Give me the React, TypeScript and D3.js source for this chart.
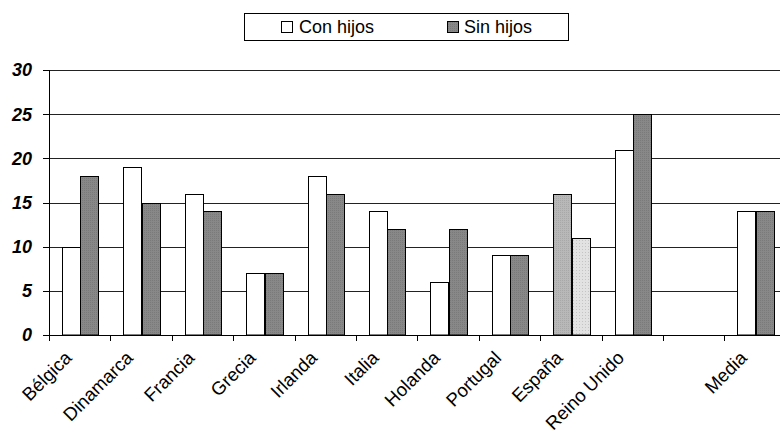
import React from "react";
import * as d3 from "d3";

const categories = ["Bélgica", "Dinamarca", "Francia", "Grecia", "Irlanda", "Italia", "Holanda", "Portugal", "España", "Reino Unido", "", "Media"];
const conHijos: (number | null)[] = [10, 19, 16, 7, 18, 14, 6, 9, 16, 21, null, 14];
const sinHijos: (number | null)[] = [18, 15, 14, 7, 16, 12, 12, 9, 11, 25, null, 14];
const yTicks = [0, 5, 10, 15, 20, 25, 30];
const seriesNames = ["Con hijos", "Sin hijos"];

const W = 780, H = 435;
const left = 49, top = 70, bottom = 335;
const bandW = 61.4;
const FONT = "Arial, 'Liberation Sans', sans-serif";

export default function App() {
  const keys = categories.map((c, i) => `${i}`);
  const x = d3.scaleBand<string>().domain(keys).range([left, left + bandW * categories.length]).padding(0);
  const y = d3.scaleLinear().domain([0, 30]).range([bottom, top]);
  const sub = d3.scaleBand<string>().domain(["0", "1"]).range([13, 13 + 36.6]).padding(0);

  const fillFor = (s: number, i: number) => {
    if (categories[i] === "España") return s === 0 ? "url(#patA)" : "url(#patB)";
    return s === 0 ? "#ffffff" : "url(#patDark)";
  };

  const bars: React.ReactNode[] = [];
  categories.forEach((c, i) => {
    [conHijos, sinHijos].forEach((arr, s) => {
      const v = arr[i];
      if (v == null) return;
      const bx = Math.round((x(`${i}`) as number) + (sub(`${s}`) as number)) + 0.5;
      const by = Math.round(y(v)) + 0.5;
      bars.push(
        <rect key={`${i}-${s}`} x={bx} y={by} width={Math.round(sub.bandwidth())} height={bottom - by}
          fill={fillFor(s, i)} stroke="#000" strokeWidth={1} />
      );
    });
  });

  const boundaries = d3.range(categories.length + 1).map((i) => left + i * bandW);

  return (
    <div style={{ position: "fixed", left: 0, top: 0, width: W, height: H, background: "#fff" }}>
      <svg width={W} height={H} style={{ display: "block", overflow: "hidden" }} fontFamily={FONT}>
        <defs>
          <pattern id="patDark" width="2" height="2" patternUnits="userSpaceOnUse">
            <rect width="2" height="2" fill="#888" />
            <rect width="1" height="1" fill="#7a7a7a" />
          </pattern>
          <pattern id="patA" width="2" height="2" patternUnits="userSpaceOnUse">
            <rect width="2" height="2" fill="#b8b8b8" />
            <rect width="1" height="1" fill="#a8a8a8" />
          </pattern>
          <pattern id="patB" width="3" height="3" patternUnits="userSpaceOnUse">
            <rect width="3" height="3" fill="#e2e2e2" />
            <rect width="1" height="1" fill="#c4c4c4" />
          </pattern>
        </defs>
        <rect x={0} y={0} width={W} height={H} fill="#fff" />
        {yTicks.filter((t) => t > 0).map((t) => (
          <line key={t} x1={left} x2={W} y1={Math.round(y(t)) + 0.5} y2={Math.round(y(t)) + 0.5} stroke="#222" strokeWidth={1} />
        ))}
        {bars}
        <line x1={left + 0.5} x2={left + 0.5} y1={top} y2={bottom + 5} stroke="#000" />
        {yTicks.map((t) => (
          <g key={t}>
            <line x1={left - 6} x2={left} y1={Math.round(y(t)) + 0.5} y2={Math.round(y(t)) + 0.5} stroke="#000" />
            <text x={32} y={y(t)} dy="0.36em" textAnchor="end" fontSize={18} fontWeight="bold" fontStyle="italic">{t}</text>
          </g>
        ))}
        <line x1={left} x2={W} y1={bottom + 0.5} y2={bottom + 0.5} stroke="#000" />
        {boundaries.map((b, i) => (
          <line key={i} x1={Math.round(b) + 0.5} x2={Math.round(b) + 0.5} y1={bottom} y2={bottom + 6} stroke="#000" />
        ))}
        {categories.map((c, i) => {
          if (!c) return null;
          const cx = (x(`${i}`) as number) + bandW / 2;
          return (
            <text key={i} transform={`translate(${cx - 7},${bottom + 24}) rotate(-45)`} textAnchor="end" fontSize={18.5}>{c}</text>
          );
        })}
        <rect x={244.5} y={13.5} width={324} height={27} fill="#fff" stroke="#000" />
        <rect x={281.5} y={21.5} width={11} height={11} fill="#fff" stroke="#000" />
        <text x={299} y={27} dy="0.36em" fontSize={18}>{seriesNames[0]}</text>
        <rect x={447.5} y={21.5} width={11} height={11} fill="url(#patDark)" stroke="#000" />
        <text x={464} y={27} dy="0.36em" fontSize={18}>{seriesNames[1]}</text>
      </svg>
    </div>
  );
}
